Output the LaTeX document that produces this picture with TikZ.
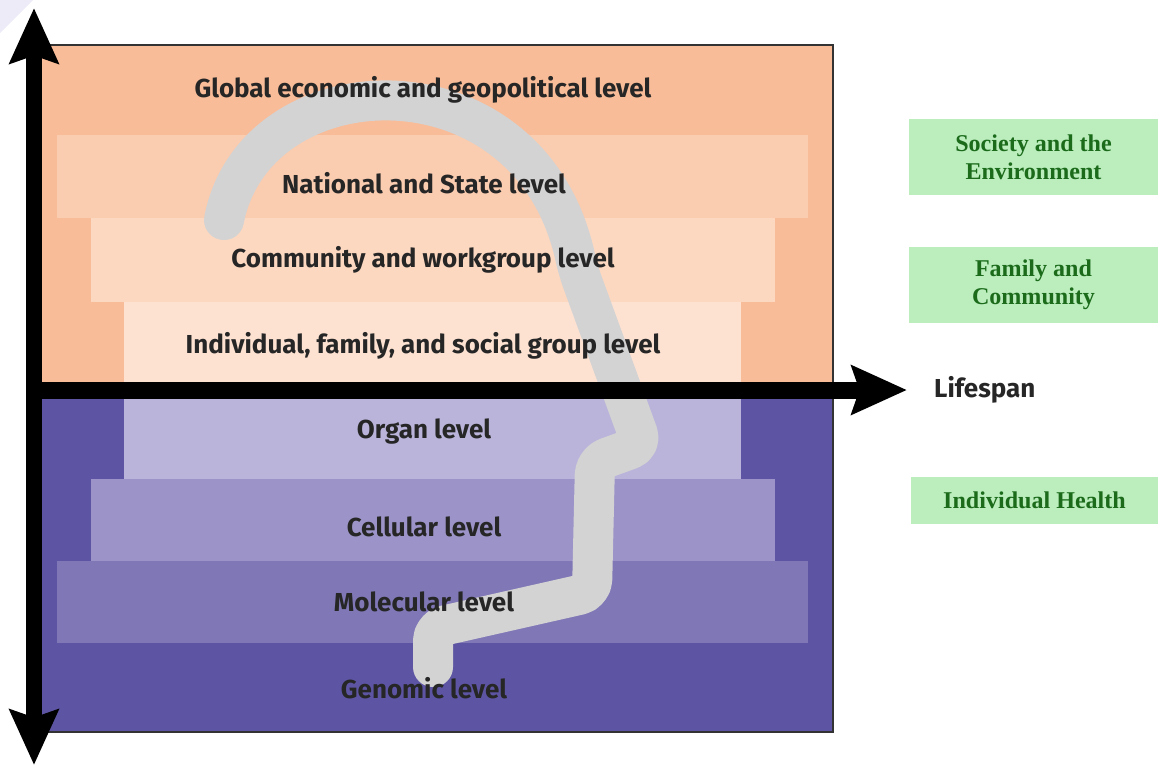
\documentclass[tikz,border=0pt]{standalone}
\usepackage{fontspec}
\setsansfont{Fira Sans}
\setmainfont{Liberation Serif}
\usetikzlibrary{arrows.meta}

\definecolor{outerorange}{HTML}{F9BC98}
\definecolor{nationalcol}{HTML}{FACCB0}
\definecolor{communitycol}{HTML}{FCD8C1}
\definecolor{individualcol}{HTML}{FDE2D2}
\definecolor{outerpurple}{HTML}{5D55A3}
\definecolor{organcol}{HTML}{BAB4DA}
\definecolor{cellularcol}{HTML}{9C94C8}
\definecolor{molecularcol}{HTML}{7F77B6}
\definecolor{trailgray}{HTML}{D3D3D3}
\definecolor{boxgreen}{HTML}{BBEDBD}
\definecolor{boxtext}{HTML}{1B6B1B}
\definecolor{cornercol}{HTML}{ECEBF7}

\tikzset{
	levellabel/.style={font=\sffamily\bfseries\fontsize{14.8}{17}\selectfont, text=black!85},
	groupbox/.style={fill=boxgreen, text=boxtext, align=center, inner sep=0pt,
		font=\rmfamily\bfseries\fontsize{13.7}{16}\selectfont},
	axisarrow/.style={line width=0.34cm, draw=black,
		-{Stealth[length=1.1cm, width=0.96cm, inset=0.15cm]}},
	trail/.style={line width=0.8cm, draw=trailgray, line cap=round, line join=round,
		rounded corners=0.25cm},
}

\begin{document}
\begin{tikzpicture}[x=0.02cm, y=-0.02cm]

	\useasboundingbox (0,0) rectangle (1158,768);
	\fill[cornercol] (0,0) -- (33,0) -- (0,33) -- cycle;

	% layers
	\fill[outerorange] (38,45) rectangle (833,390);
	\fill[outerpurple] (38,390) rectangle (833,732);
	\fill[nationalcol] (57,135) rectangle (808,218);
	\fill[communitycol] (91,218) rectangle (775,302);
	\fill[individualcol] (124,302) rectangle (741,390);
	\fill[organcol] (124,390) rectangle (741,479);
	\fill[cellularcol] (91,479) rectangle (775,561);
	\fill[molecularcol] (57,561) rectangle (808,643);
	\draw[line width=1.2pt, black!80] (38,45) rectangle (833,732);

	\coordinate (trailstart) at (224,220);
	\coordinate (trailend) at (433,667);
	\draw[trail] (trailstart) .. controls (255,60) and (530,49) .. (578,270)
		-- (642,445) -- (595,462) -- (592,592) -- (433,628) -- (trailend);

	\coordinate (up) at (34,8);
	\coordinate (down) at (34,765);
	\coordinate (origin) at (26,390);
	\coordinate (life) at (907,390);
	\draw[axisarrow] (34,390) -- (up);
	\draw[axisarrow] (34,390) -- (down);
	\draw[axisarrow] (origin) -- (life);

	\node[levellabel] (global) at (423,90) {Global economic and geopolitical level};
	\node[levellabel] (national) at (424,183) {National and State level};
	\node[levellabel] (community) at (423,260) {Community and workgroup level};
	\node[levellabel] (individual) at (423,346) {Individual, family, and social group level};
	\node[levellabel] (organ) at (424,432) {Organ level};
	\node[levellabel] (cellular) at (424,527) {Cellular level};
	\node[levellabel] (molecular) at (424,602) {Molecular level};
	\node[levellabel] (genomic) at (424,688) {Genomic level};
	\node[levellabel, anchor=west] (lifespan) at (928,390) {Lifespan};

	\node[groupbox, minimum width=4.98cm, minimum height=1.52cm] (society) at (1033.5,157)
		{Society and the\\Environment};
	\node[groupbox, minimum width=4.98cm, minimum height=1.52cm] (family) at (1033.5,285)
		{Family and\\Community};
	\node[groupbox, minimum width=4.94cm, minimum height=0.94cm] (health) at (1034.5,500.5)
		{Individual Health};

\end{tikzpicture}
\end{document}
